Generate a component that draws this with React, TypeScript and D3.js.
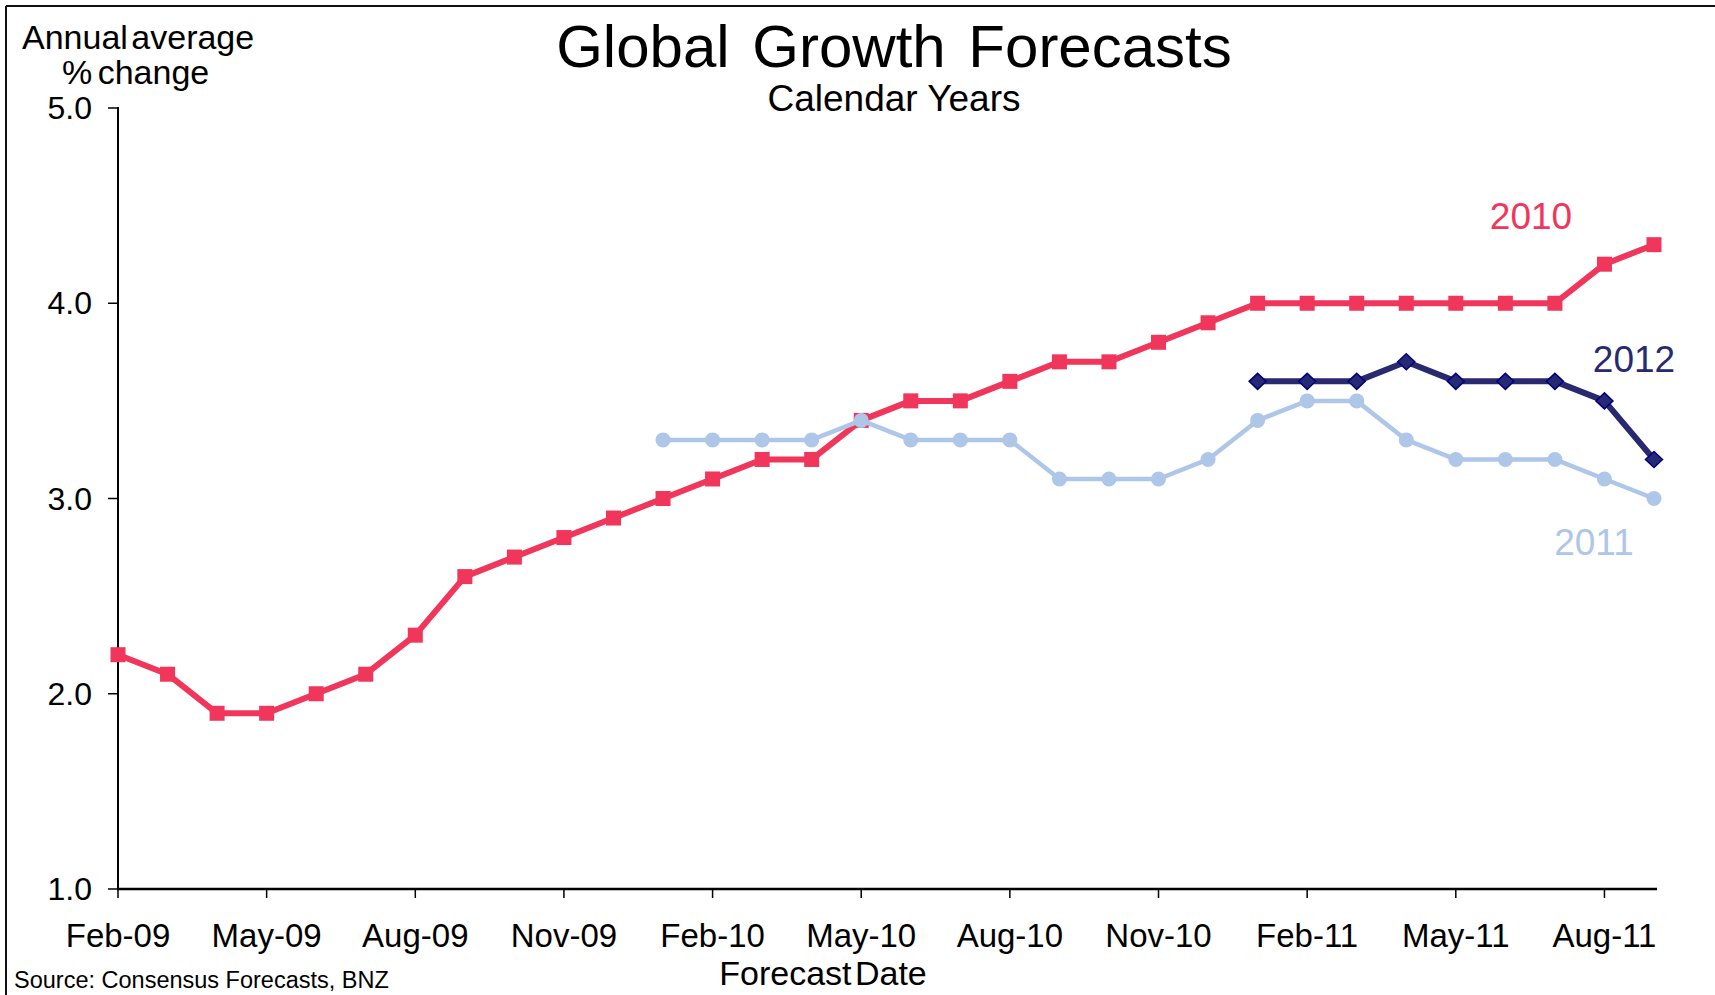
import React from "react";
import * as d3 from "d3";

const months = [
  "Feb-09","Mar-09","Apr-09","May-09","Jun-09","Jul-09","Aug-09","Sep-09","Oct-09","Nov-09","Dec-09",
  "Jan-10","Feb-10","Mar-10","Apr-10","May-10","Jun-10","Jul-10","Aug-10","Sep-10","Oct-10","Nov-10","Dec-10",
  "Jan-11","Feb-11","Mar-11","Apr-11","May-11","Jun-11","Jul-11","Aug-11","Sep-11",
];
const xTickLabels = ["Feb-09","May-09","Aug-09","Nov-09","Feb-10","May-10","Aug-10","Nov-10","Feb-11","May-11","Aug-11"];
const yTicks = [1, 2, 3, 4, 5];

const series2010 = [2.2,2.1,1.9,1.9,2.0,2.1,2.3,2.6,2.7,2.8,2.9,3.0,3.1,3.2,3.2,3.4,3.5,3.5,3.6,3.7,3.7,3.8,3.9,4.0,4.0,4.0,4.0,4.0,4.0,4.0,4.2,4.3];
const months2011 = months.slice(11);
const series2011 = [3.3,3.3,3.3,3.3,3.4,3.3,3.3,3.3,3.1,3.1,3.1,3.2,3.4,3.5,3.5,3.3,3.2,3.2,3.2,3.1,3.0];
const months2012 = months.slice(23);
const series2012 = [3.6,3.6,3.6,3.7,3.6,3.6,3.6,3.5,3.2];

const RED = "#F0365A";
const LIGHT = "#AEC6E8";
const NAVY = "#29296F";
const FONT = "'Liberation Sans', Arial, Helvetica, sans-serif";

export default function App() {
  const W = 1715, H = 995;
  const x = d3.scalePoint<string>().domain(months).range([118, 1654]);
  const y = d3.scaleLinear().domain([1, 5]).range([889, 108]);
  const line = d3.line<[string, number]>().x(d => x(d[0])!).y(d => y(d[1]));

  const d2010 = months.map((m, i) => [m, series2010[i]] as [string, number]);
  const d2011 = months2011.map((m, i) => [m, series2011[i]] as [string, number]);
  const d2012 = months2012.map((m, i) => [m, series2012[i]] as [string, number]);

  return (
    <svg width={W} height={H} style={{ position: "absolute", left: 0, top: 0, background: "#fff" }} fontFamily={FONT}>
      <rect x={0} y={0} width={W} height={H} fill="#fff" />
      {/* frame */}
      <line x1={6} y1={6} x2={W} y2={6} stroke="#111" strokeWidth={2} />
      <line x1={6} y1={6} x2={6} y2={H} stroke="#111" strokeWidth={2} />

      {/* titles */}
      <text x={894} y={67} textAnchor="middle" fontSize={60} wordSpacing={6} fill="#000">Global Growth Forecasts</text>
      <text x={894} y={111} textAnchor="middle" fontSize={37} fill="#000">Calendar Years</text>
      <text x={22} y={49} fontSize={34} wordSpacing={-6} fill="#000">Annual average</text>
      <text x={62} y={84} fontSize={34} wordSpacing={-4} fill="#000">% change</text>

      {/* axes */}
      <line x1={118} y1={107} x2={118} y2={890} stroke="#000" strokeWidth={2} />
      <line x1={117} y1={889} x2={1657} y2={889} stroke="#000" strokeWidth={2.5} />
      {yTicks.map(t => (
        <g key={t}>
          <line x1={108} x2={118} y1={y(t)} y2={y(t)} stroke="#000" strokeWidth={1.5} />
          <text x={92} y={y(t) + 11} textAnchor="end" fontSize={32} fill="#000">{t.toFixed(1)}</text>
        </g>
      ))}
      {xTickLabels.map(m => (
        <g key={m}>
          <line x1={x(m)} x2={x(m)} y1={889} y2={898} stroke="#000" strokeWidth={1.5} />
          <text x={x(m)} y={947} textAnchor="middle" fontSize={33} fill="#000">{m}</text>
        </g>
      ))}
      <text x={823} y={985} textAnchor="middle" fontSize={34} wordSpacing={-6} fill="#000">Forecast Date</text>
      <text x={14} y={988} fontSize={23.5} fill="#000">Source: Consensus Forecasts, BNZ</text>

      {/* 2010 */}
      <path d={line(d2010)!} fill="none" stroke={RED} strokeWidth={6} strokeLinejoin="round" />
      {d2010.map(d => (
        <rect key={d[0]} x={x(d[0])! - 7.5} y={y(d[1]) - 7.5} width={15} height={15} fill={RED} />
      ))}

      {/* 2011 */}
      <path d={line(d2011)!} fill="none" stroke={LIGHT} strokeWidth={4.5} strokeLinejoin="round" />
      {d2011.map(d => (
        <circle key={d[0]} cx={x(d[0])!} cy={y(d[1])} r={7.5} fill={LIGHT} />
      ))}

      {/* 2012 */}
      <path d={line(d2012)!} fill="none" stroke={NAVY} strokeWidth={6} strokeLinejoin="round" />
      {d2012.map(d => {
        const cx = x(d[0])!, cy = y(d[1]);
        return (
          <path key={d[0]} d={`M${cx},${cy - 8}L${cx + 8.5},${cy}L${cx},${cy + 8}L${cx - 8.5},${cy}Z`} fill="#262A73" stroke="#000080" strokeWidth={1.5} />
        );
      })}

      {/* series labels */}
      <text x={1531} y={229} textAnchor="middle" fontSize={37} fill={RED}>2010</text>
      <text x={1634} y={372} textAnchor="middle" fontSize={37} fill="#262A73">2012</text>
      <text x={1594} y={555} textAnchor="middle" fontSize={37} fill={LIGHT}>2011</text>
    </svg>
  );
}
